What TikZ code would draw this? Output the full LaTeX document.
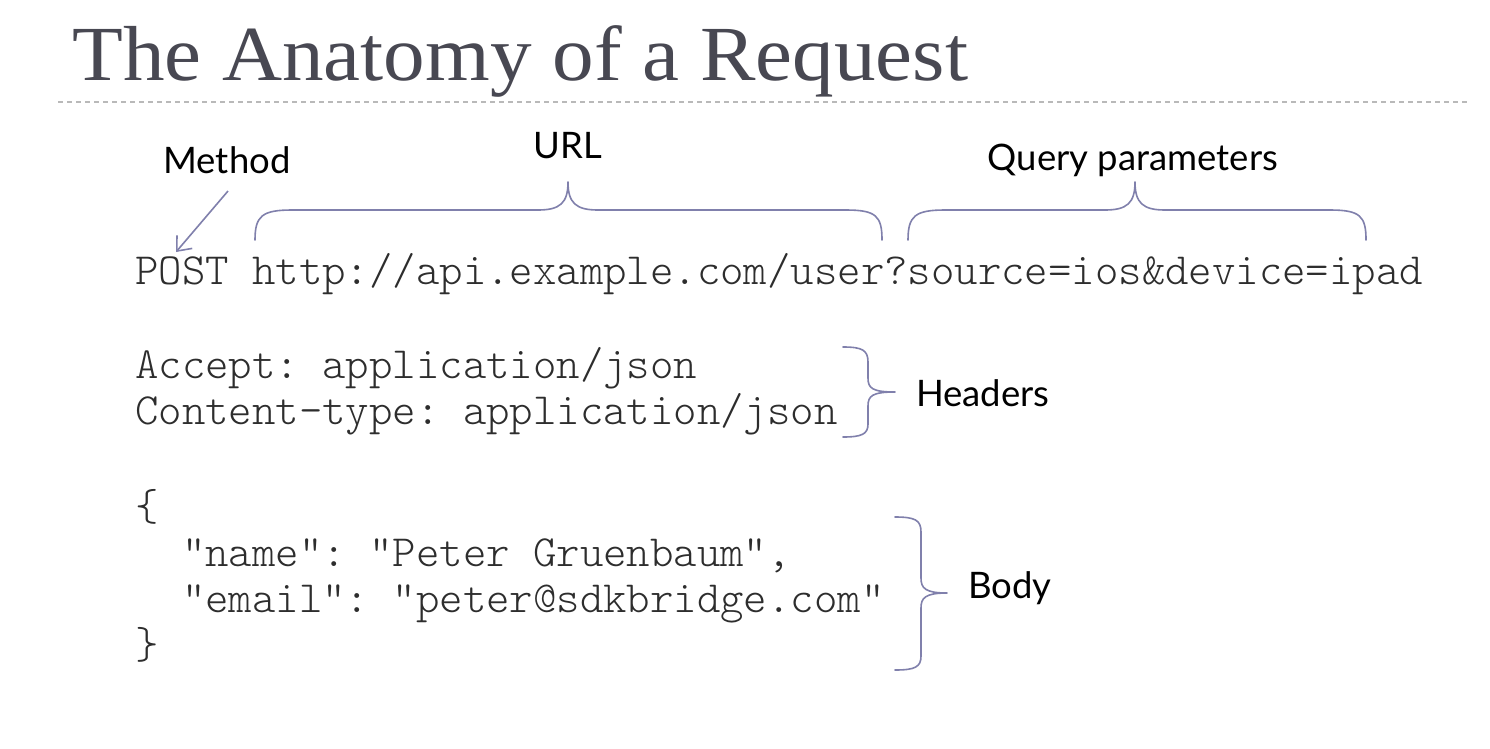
\documentclass[tikz,border=0pt]{standalone}
\usepackage{fontspec}
\setmainfont{Liberation Serif}
\newfontfamily\codefont{lmmonolt10-regular.otf}
\newfontfamily\labelfont{Lato}
\usetikzlibrary{arrows.meta}
\definecolor{bracecol}{RGB}{128,128,172}
\definecolor{titlecol}{RGB}{72,72,82}
\definecolor{codecol}{RGB}{45,45,45}
\definecolor{dashcol}{RGB}{185,185,185}
\tikzset{
  codeline/.style={anchor=base west, inner sep=0pt, text=codecol, font=\codefont\fontsize{44.6}{46}\selectfont\frenchspacing},
  partlabel/.style={inner sep=0pt, text=black, font=\labelfont\fontsize{36.5}{42}\selectfont},
  bracepath/.style={draw=bracecol, line width=1.6pt, line cap=round, line join=round},
  arrowpath/.style={draw=bracecol, line width=1.6pt, -{Straight Barb[length=12pt,width=20pt]}},
}
\begin{document}
\begin{tikzpicture}[x=1pt,y=-1pt]
\useasboundingbox (0,0) rectangle (1490,748);
\fill[white] (0,0) rectangle (1490,748);
% title
\node[anchor=base west, inner sep=0pt, text=titlecol, font=\fontsize{78}{90}\selectfont] (title) at (72,80) {\scalebox{1.066}[1]{The Anatomy of a Request}};
\coordinate (dl) at (58,102);
\coordinate (dr) at (1470,102);
\draw[dashcol, line width=1.3pt, dash pattern=on 5pt off 4pt] (dl) -- (dr);
% code
\node[codeline] (req) at (135,284) {POST http://api.example.com/user?source=ios\&device=ipad};
\node[codeline] (h1) at (135,378) {Accept: application/json};
\node[codeline] (h2) at (135,424) {Content-type: application/json};
\node[codeline] (b0) at (135,520) {\{};
\node[codeline] (b1) at (135,566) {\ \ "name": "Peter Gruenbaum",};
\node[codeline] (b2) at (135,612) {\ \ "email": "peter@sdkbridge.com"};
\node[codeline] (b3) at (135,658) {\}};
% labels
\node[partlabel, anchor=base] (method) at (227,173) {Method};
\node[partlabel, anchor=base] (url) at (568,158) {URL};
\node[partlabel, anchor=base] (query) at (1133,170) {Query parameters};
\node[partlabel, anchor=west] (headers) at (916,393) {Headers};
\node[partlabel, anchor=west] (body) at (968,588) {Body};
% method arrow
\coordinate (mstart) at (228,191);
\coordinate (mend) at (176,252);
\draw[arrowpath] (mstart) -- (mend);
% URL brace
\coordinate (ut) at (568,182);
\draw[bracepath] (255,240) .. controls (255,216) and (262,210) .. (292,210) -- (538,210)
  .. controls (560,210) and (568,203) .. (ut)
  .. controls (568,203) and (576,210) .. (598,210) -- (846,210)
  .. controls (876,210) and (882,216) .. (882,240);
% Query brace
\coordinate (qt) at (1135,182);
\draw[bracepath] (908,240) .. controls (908,216) and (915,210) .. (945,210) -- (1105,210)
  .. controls (1127,210) and (1135,203) .. (qt)
  .. controls (1135,203) and (1143,210) .. (1165,210) -- (1330,210)
  .. controls (1360,210) and (1366,216) .. (1366,240);
% Headers brace
\coordinate (ht) at (895,392);
\draw[bracepath] (843,347) .. controls (862,347) and (868,350) .. (868,362) -- (868,378)
  .. controls (868,388) and (872,392) .. (ht)
  .. controls (872,392) and (868,396) .. (868,406) -- (868,424)
  .. controls (868,434) and (862,437) .. (843,437);
% Body brace
\coordinate (bt) at (947,593);
\draw[bracepath] (895,517) .. controls (915,517) and (921,520) .. (921,532) -- (921,578)
  .. controls (921,588) and (925,593) .. (bt)
  .. controls (925,593) and (921,598) .. (921,608) -- (921,656)
  .. controls (921,667) and (915,670) .. (895,670);
\end{tikzpicture}
\end{document}
